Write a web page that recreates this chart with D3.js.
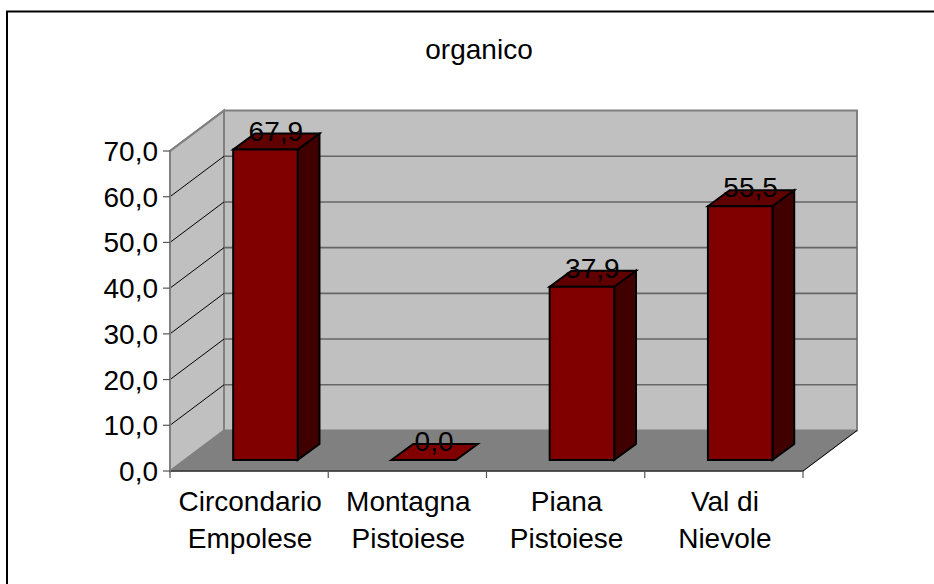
<!DOCTYPE html>
<html><head><meta charset="utf-8"><style>html,body{margin:0;padding:0;background:#fff}svg{display:block}</style>
<script src="https://cdnjs.cloudflare.com/ajax/libs/d3/7.8.5/d3.min.js"></script></head><body><div id="c"></div>
<script>
const titleText = "organico";
const categories = [["Circondario","Empolese"],["Montagna","Pistoiese"],["Piana","Pistoiese"],["Val di","Nievole"]];
const values = [67.9, 0.0, 37.9, 55.5];
const yTicks = [0,10,20,30,40,50,60,70];

const W=934,H=584;
const fmt = v => v.toFixed(1).replace(".",",");
const svg = d3.select("#c").append("svg").attr("width",W).attr("height",H);
svg.append("path").attr("d","M7,584V11.5H934").attr("fill","none").attr("stroke","#000").attr("stroke-width",2);

const x = d3.scaleBand().domain(d3.range(categories.length)).range([170,803]);
const y = d3.scaleLinear().domain([0,70]).range([471,151]);
const DX=54, DY=-40.5;
const poly=(pts,fill,stroke,sw)=>svg.append("polygon").attr("points",pts.map(p=>p.join(",")).join(" ")).attr("fill",fill).attr("stroke",stroke).attr("stroke-width",sw).attr("stroke-linejoin","miter");
const x0=x.range()[0],x1=x.range()[1];
poly([[x0+DX,y(70)+DY],[x1+DX,y(70)+DY],[x1+DX,y(0)+DY],[x0+DX,y(0)+DY]],"#c0c0c0","#808080",2);
poly([[x0,y(70)],[x0+DX,y(70)+DY],[x0+DX,y(0)+DY],[x0,y(0)]],"#c0c0c0","#808080",2);
poly([[x0,y(0)],[x0+DX,y(0)+DY],[x1+DX,y(0)+DY],[x1,y(0)]],"#808080","#808080",1);
yTicks.filter(t=>t>0&&t<70).forEach(t=>{
  svg.append("line").attr("x1",x0+DX).attr("x2",x1+DX).attr("y1",y(t)+DY).attr("y2",y(t)+DY).attr("stroke","#666").attr("stroke-width",1.6);
});
yTicks.filter(t=>t>0).forEach(t=>{
  svg.append("line").attr("x1",x0).attr("y1",y(t)).attr("x2",x0+DX).attr("y2",y(t)+DY).attr("stroke",t==70?"#808080":"#000").attr("stroke-width",t==70?2:1);
});
svg.append("line").attr("x1",x0).attr("x2",x1).attr("y1",y(0)).attr("y2",y(0)).attr("stroke","#333").attr("stroke-width",1.5);
svg.append("line").attr("x1",x1).attr("x2",x1+DX).attr("y1",y(0)).attr("y2",y(0)+DY).attr("stroke","#000").attr("stroke-width",1);
svg.append("line").attr("x1",x0).attr("x2",x0).attr("y1",y(70)).attr("y2",y(0)+1).attr("stroke","#808080").attr("stroke-width",2);
const axisG=svg.append("g");
yTicks.forEach(t=>{
  axisG.append("line").attr("x1",x0-7).attr("x2",x0).attr("y1",y(t)).attr("y2",y(t)).attr("stroke","#555").attr("stroke-width",1.2);
  axisG.append("text").attr("x",x0-12).attr("y",y(t)+10).attr("text-anchor","end").attr("font-family","Liberation Sans").attr("font-size",28).attr("fill","#000").text(fmt(t));
});
d3.range(categories.length+1).forEach(i=>{
  const px=x0+i*x.step();
  axisG.append("line").attr("x1",px).attr("x2",px).attr("y1",y(0)).attr("y2",y(0)+7).attr("stroke","#555").attr("stroke-width",1.2);
});
categories.forEach((c,i)=>{
  const cx=x(i)+x.bandwidth()/2+1;
  c.forEach((l,j)=>axisG.append("text").attr("x",cx).attr("y",511+j*37).attr("text-anchor","middle").attr("font-family","Liberation Sans").attr("font-size",28).attr("fill","#000").text(l));
});
const bw=64.5, off=[16.3,-11], bd=[21.8,-16];
values.forEach((v,i)=>{
  const l=x(i)+(x.bandwidth()-bw)/2+off[0], r=l+bw, b=y(0)+off[1], t=b-(y(0)-y(v));
  const dx=bd[0],dy=bd[1],k="#000",sw=2;
  if(v>0){
    poly([[r,b],[r+dx,b+dy],[r+dx,t+dy],[r,t]],"#400000",k,sw);
    poly([[l,t],[l+dx,t+dy],[r+dx,t+dy],[r,t]],"#600000",k,sw);
    poly([[l,b],[r,b],[r,t],[l,t]],"#800000",k,sw);
  } else {
    poly([[l,b],[l+dx,b+dy],[r+dx,b+dy],[r,b]],"#800000",k,sw);
  }
  svg.append("text").attr("x",(l+r)/2+dx/2-0.5).attr("y",t+dy+7).attr("text-anchor","middle").attr("font-family","Liberation Sans").attr("font-size",28).attr("fill","#000").text(fmt(v));
});
svg.append("text").attr("x",479).attr("y",59).attr("text-anchor","middle").attr("font-family","Liberation Sans").attr("font-size",28).attr("fill","#000").text(titleText);
</script></body></html>
